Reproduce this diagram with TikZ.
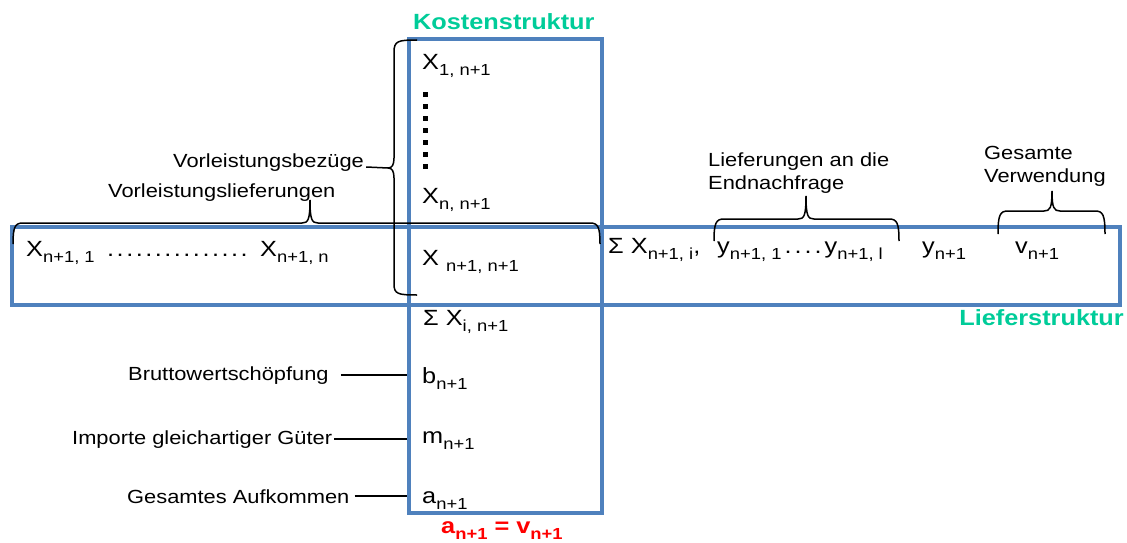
\documentclass[tikz,border=0pt]{standalone}
\usepackage{fontspec}
\setmainfont{Liberation Sans}[FakeStretch=1.15]
\usepackage{xcolor}
\usepackage{tikz}
\usetikzlibrary{positioning}
\definecolor{frameblue}{RGB}{79,129,189}
\definecolor{costgreen}{RGB}{0,204,153}
\definecolor{sumred}{RGB}{255,0,0}
\newcommand{\idx}[1]{\raisebox{-6pt}{\fontsize{16}{18}\selectfont #1}}
\newcommand{\bidx}[1]{\raisebox{-6pt}{\fontsize{16}{18}\selectfont\bfseries #1}}
\newcommand{\dotrun}[2]{\foreach \k in {1,...,#1}{.\kern#2}}

\begin{document}
\begin{tikzpicture}[x=1pt, y=-1pt,
      lbl/.style={anchor=base west, inner sep=0pt, font=\fontsize{19}{23}\selectfont},
      entry/.style={anchor=base west, inner sep=0pt, font=\fontsize{22}{24}\selectfont},
      heading/.style={anchor=base west, inner sep=0pt,
        font=\fontsize{22}{24}\selectfont\bfseries},
      blkbox/.style={draw=frameblue, line width=3.2pt, inner sep=0pt},
      brc/.style={line width=1.5pt},
      lead/.style={line width=1.5pt}
    ]
    \newcommand{\bracetop}[6]{%
      \draw[brc] (#1,#6) .. controls (#1,#3+4) and (#1+2,#3) .. (#1+10,#3)
        -- (#4-8,#3) .. controls (#4-2,#3) and (#4,#3-3) .. (#4,#5);
      \draw[brc] (#4,#5) .. controls (#4,#3-3) and (#4+2,#3) .. (#4+8,#3)
        -- (#2-10,#3) .. controls (#2-2,#3) and (#2,#3+4) .. (#2,#6);
    }
    \useasboundingbox (0,0) rectangle (1127,543);

    \node[blkbox, minimum width=1108pt, minimum height=78pt] (liefbox) at (566,266) {};
    \node[blkbox, minimum width=193pt, minimum height=474pt] (kostbox) at (505.5,276) {};

    \node[heading, text=costgreen] (kost) at (413,30) {Kostenstruktur};
    \node[heading, text=costgreen, anchor=base east] (lief) at (1124,325) {Lieferstruktur};
    \node[heading, text=sumred] (avgl) at (441,533) {a\bidx{n+1} = v\bidx{n+1}};

    \node[entry] (x1) at (422,70) {X\idx{1, n+1}};
    \foreach \k in {0,...,6}
      \fill (423,92+12*\k) rectangle ++(5,5);
    \node[entry] (xn) at (422,203) {X\idx{n, n+1}};
    \node[entry] (xnn) at (422,265) {X \idx{n+1, n+1}};
    \node[entry] (sumi) at (423,325) {Σ X\idx{i, n+1}};
    \node[entry] (bn) at (422,383) {b\idx{n+1}};
    \node[entry] (mn) at (422,443) {m\idx{n+1}};
    \node[entry] (an) at (422,503) {a\idx{n+1}};

    \node[entry] (xfirst) at (26,256) {X\idx{n+1, 1}};
    \node[entry] (xdots) at (107,256) {\dotrun{15}{2.5pt}};
    \node[entry] (xlast) at (260,256) {X\idx{n+1, n}};
    \node[entry] (sumrow) at (608,253) {Σ X\idx{n+1, i},};
    \node[entry] (ylist) at (717,253) {y\idx{n+1, 1}\kern3pt\dotrun{4}{3pt}y\idx{n+1, l}};
    \node[entry] (yn) at (922,253) {y\idx{n+1}};
    \node[entry] (vn) at (1015,253) {v\idx{n+1}};

    \node[lbl] (vbez) at (173,167) {Vorleistungsbezüge};
    \node[lbl] (vlief) at (108,197) {Vorleistungslieferungen};
    \node[lbl, anchor=north west, align=left] (endn) at (708,153)
      {Lieferungen an die\\Endnachfrage};
    \node[lbl, anchor=north west, align=left] (gesv) at (984,146)
      {Gesamte\\Verwendung};
    \node[lbl] (brutto) at (128,380) {Bruttowertschöpfung};
    \node[lbl] (import) at (72,444) {Importe gleichartiger Güter};
    \node[lbl] (aufk) at (127,503) {Gesamtes Aufkommen};

    \coordinate (bztip) at (388,168);
    \draw[brc] (417,40) .. controls (398,40) and (394,41) .. (394,52)
      -- (394,158) .. controls (394,165) and (392,168) .. (bztip);
    \draw[brc] (bztip) .. controls (392,168) and (394,171) .. (394,178)
      -- (394,284) .. controls (394,294) and (398,295) .. (417,295);
    \draw[lead] ([xshift=2pt]vbez.base east) -- (bztip);

    \bracetop{13}{600}{223}{310}{200}{244}
    \bracetop{714}{899}{219}{806}{196}{241}
    \bracetop{998}{1105}{211}{1052}{191}{234}

    \draw[lead] ([xshift=12pt]brutto.east) -- (brutto.east -| kostbox.west);
    \draw[lead] ([xshift=2pt]import.east) -- (import.east -| kostbox.west);
    \draw[lead] ([xshift=5pt]aufk.east) -- (aufk.east -| kostbox.west);
  \end{tikzpicture}
\end{document}
